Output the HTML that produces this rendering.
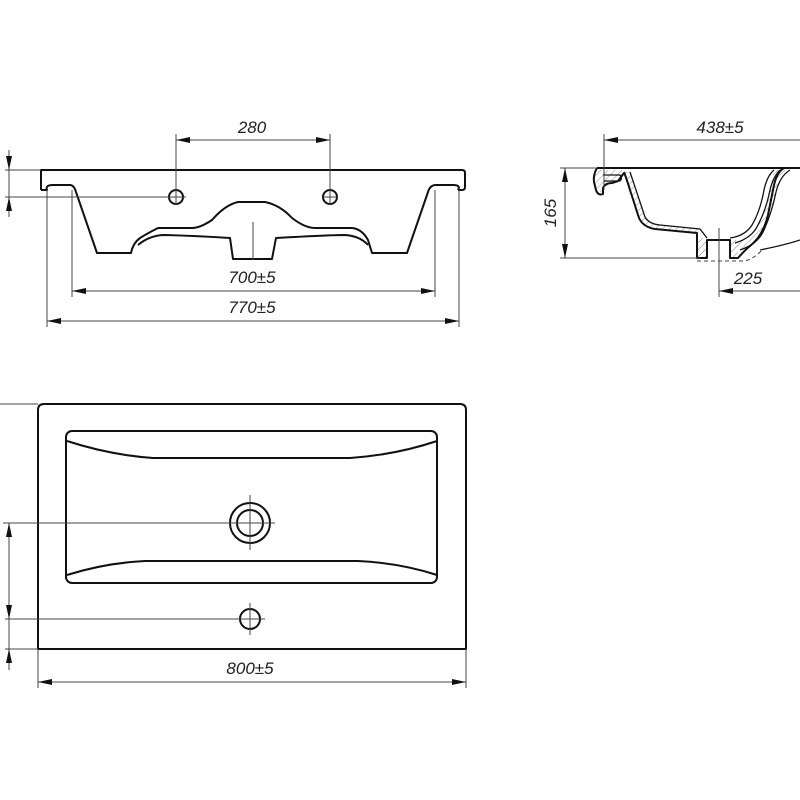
<!DOCTYPE html>
<html><head><meta charset="utf-8"><style>
html,body{margin:0;padding:0;background:#fff}
svg{display:block}
text{font-family:"Liberation Sans",sans-serif;font-style:italic;font-size:17px;fill:#222}
</style></head><body>
<svg width="800" height="800" viewBox="0 0 800 800" xmlns="http://www.w3.org/2000/svg">
<defs>
<marker id="a" viewBox="0 0 14 6" refX="14" refY="3" markerWidth="14" markerHeight="6" orient="auto-start-reverse" markerUnits="userSpaceOnUse"><path d="M0,0 L14,3 L0,6 z" fill="#111"/></marker>
<pattern id="h" width="5" height="5" patternUnits="userSpaceOnUse" patternTransform="rotate(45)"><line x1="0" y1="0" x2="0" y2="5" stroke="#222" stroke-width="1"/></pattern>
</defs>
<g fill="none" stroke="#111" stroke-width="2" stroke-linejoin="round">
<!-- FRONT VIEW -->
<path d="M41,190 L41,170 L462,170 Q465,170 465,173 L465,187 Q465,190 462,190 L458,190"/>
<path d="M41,190 L47,190 Q45,185 53,185 L70,185 Q74,185 76,192 L97,253 L131,253 Q133,243 140,238 Q148,233 158,228 L192,228 Q200,228 212,220 Q225,205 238,202 L265,202 Q280,205 292,218 Q305,228 315,228 L352,228 Q362,229 368,240 L372,253 L407,253 L428,192 Q430,185 436,185 L453,185 Q461,185 458,190"/>
<path d="M138,245 Q150,235 165,235 Q200,236 230,238 L233,259 L272,259 L276,238 Q330,235 345,235 Q360,236 368,245"/>
<circle cx="176" cy="197" r="7"/><circle cx="330" cy="197" r="7"/>
<!-- SIDE VIEW -->
<path d="M597,168 L800,168"/>
<path d="M597,168 Q593,175 594,182 L596,190 Q598,196 603,194 L603,188 Q605,183 612,183 L618,181 L624,173"/>
<path d="M624,172 Q627,180 630,190 L639,218 Q643,227 655,229 L697,233 L697,258 L707,258 L707,240 L730,240 L730,258 L738,258 Q745,250 750,246 Q763,236 768,215 L774,185 Q777,172 784,168" />
<path d="M630,172 L645,217 Q649,224 660,225 L700,229 L707,238" stroke-width="1.3"/>
<path d="M730,238 Q745,236 752,225 Q760,212 764,190 Q767,176 774,170" stroke-width="1.3"/>
<path d="M735,243 Q752,238 758,225 Q766,210 770,190 Q773,177 780,170" stroke-width="1.3"/>
<path d="M740,250 Q758,244 764,230 Q772,212 776,192 Q780,176 790,170" stroke-width="1.3"/>
<path d="M603,175 L620,175 Q623,178 620,181 L604,181" stroke-width="1.3"/>
<path d="M800,240 Q785,245 760,250" stroke-width="1.3"/>
<!-- TOP VIEW -->
<path d="M38,649 L38,410 Q38,404 44,404 L460,404 Q466,404 466,410 L466,649 Z"/>
<rect x="66" y="431" width="371" height="152" rx="6"/>
<path d="M67,441 Q110,455 153,458 L350,458 Q395,455 437,441"/>
<path d="M67,575 Q105,563 145,561 L358,561 Q400,563 437,575"/>
<circle cx="250" cy="523" r="20"/><circle cx="250" cy="523" r="13"/>
<circle cx="250" cy="619" r="10"/>
</g>
<g stroke="#444" stroke-width="1" fill="none">
<path d="M176,134 L176,205 M330,134 L330,205 M5,170 L41,170 M5,197 L186,197 M323,197 L338,197 M253,222 L253,260"/>
<path d="M72,190 L72,297 M435,190 L435,297 M47,190 L47,327 M459,190 L459,327"/>
<line x1="176" y1="140" x2="330" y2="140" marker-start="url(#a)" marker-end="url(#a)"/>
<line x1="72" y1="291" x2="435" y2="291" marker-start="url(#a)" marker-end="url(#a)"/>
<line x1="47" y1="321" x2="459" y2="321" marker-start="url(#a)" marker-end="url(#a)"/>
<line x1="9" y1="150" x2="9" y2="170" marker-end="url(#a)"/>
<line x1="9" y1="217" x2="9" y2="197" marker-end="url(#a)"/>
<line x1="9" y1="170" x2="9" y2="197"/>
<path d="M604,134 L604,190 M560,168 L597,168 M560,258 L700,258 M719,228 L719,297"/>
<line x1="604" y1="140" x2="800" y2="140" marker-start="url(#a)"/>
<line x1="565" y1="168" x2="565" y2="258" marker-start="url(#a)" marker-end="url(#a)"/>
<line x1="719" y1="291" x2="800" y2="291" marker-start="url(#a)"/>
<path d="M697,261 L745,261 Q755,258 762,250" stroke-dasharray="4,3"/>
<path d="M0,404 L38,404 M3,523 L275,523 M250,495 L250,550 M5,619 L265,619 M250,603 L250,635 M5,649 L38,649 M38,649 L38,688 M466,649 L466,688"/>
<line x1="38" y1="682" x2="466" y2="682" marker-start="url(#a)" marker-end="url(#a)"/>
<line x1="9" y1="523" x2="9" y2="619" marker-start="url(#a)" marker-end="url(#a)"/>
<line x1="9" y1="670" x2="9" y2="649" marker-end="url(#a)"/>
<line x1="9" y1="619" x2="9" y2="649"/>
</g>
<path d="M597,170 L624,170 L618,181 L612,183 L603,188 L603,194 L596,190 L594,180 Z" fill="url(#h)" opacity="0.5"/>
<rect x="697" y="238" width="10" height="20" fill="url(#h)" opacity="0.6"/>
<rect x="730" y="240" width="8" height="18" fill="url(#h)" opacity="0.6"/>
<path d="M630,172 L645,217 Q649,224 660,225 L700,229 L697,233 L655,229 Q643,227 639,218 L624,172 Z" fill="url(#h)" opacity="0.5"/>
<path d="M774,170 L790,170 Q780,176 776,192 Q772,212 764,230 Q758,244 740,250 L735,243 Q752,238 758,225 Q766,210 770,190 Z" fill="url(#h)" opacity="0.5"/>
<text x="252" y="133" text-anchor="middle">280</text>
<text x="252" y="283" text-anchor="middle">700±5</text>
<text x="252" y="313" text-anchor="middle">770±5</text>
<text x="720" y="133" text-anchor="middle">438±5</text>
<text x="748" y="284" text-anchor="middle">225</text>
<text transform="translate(556,213) rotate(-90)" text-anchor="middle">165</text>
<text x="250" y="674" text-anchor="middle">800±5</text>
</svg>
</body></html>
